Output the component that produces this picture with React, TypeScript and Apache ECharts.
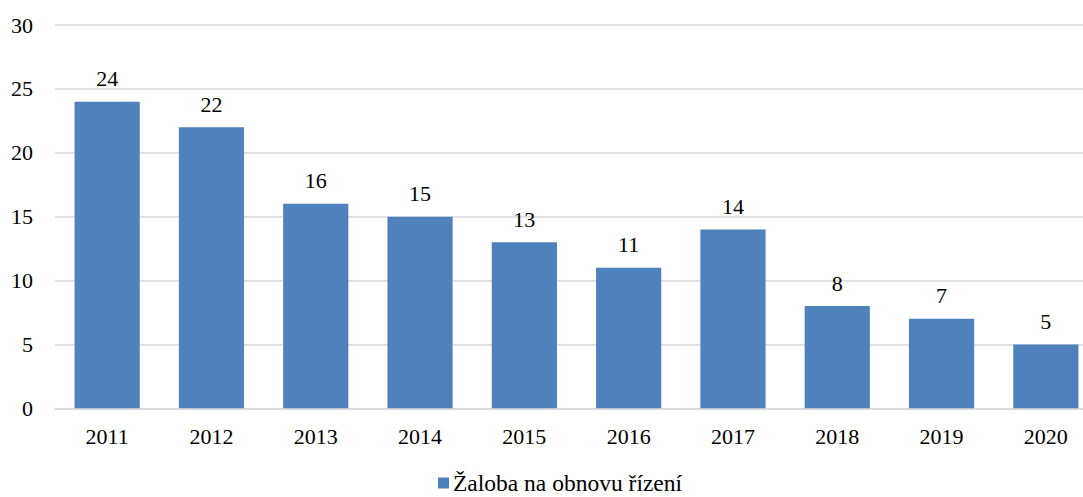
import React, { useEffect, useRef } from "react";
import * as echarts from "echarts";

const categories = ["2011", "2012", "2013", "2014", "2015", "2016", "2017", "2018", "2019", "2020"];
const values = [24, 22, 16, 15, 13, 11, 14, 8, 7, 5];
const seriesName = "Žaloba na obnovu řízení";

const FONT = "Liberation Serif";

export default function App() {
  const ref = useRef<HTMLDivElement>(null);
  useEffect(() => {
    if (!ref.current) return;
    const chart = echarts.init(ref.current, undefined, { renderer: "svg" });
    chart.setOption({
      animation: false,
      backgroundColor: "#ffffff",
      textStyle: { fontFamily: FONT },
      grid: { left: 55, right: 0, top: 25, bottom: 88.7, containLabel: false },
      legend: {
        data: [seriesName],
        left: 438,
        top: 471,
        padding: 0,
        itemGap: 10,
        icon: "rect",
        itemWidth: 11,
        itemHeight: 11,
        textStyle: { fontFamily: FONT, fontSize: 23.5, color: "#000", padding: [0, 0, 0, -1] },
      },
      xAxis: {
        type: "category",
        data: categories,
        axisLine: { show: true, lineStyle: { color: "#d9d9d9", width: 1.5 } },
        axisTick: { show: false },
        axisLabel: { fontFamily: FONT, fontSize: 22, color: "#000", margin: 17 },
      },
      yAxis: {
        type: "value",
        min: 0,
        max: 30,
        interval: 5,
        axisLine: { show: false },
        axisTick: { show: false },
        splitLine: { lineStyle: { color: "#d9d9d9", width: 1.5 } },
        axisLabel: { fontFamily: FONT, fontSize: 22, color: "#000", margin: 22 },
      },
      series: [
        {
          name: seriesName,
          type: "bar",
          data: values,
          barCategoryGap: "37.5%",
          itemStyle: { color: "#4F81BD" },
          label: {
            show: true,
            position: "top",
            distance: 12,
            fontFamily: FONT,
            fontSize: 22,
            color: "#000",
          },
        },
      ],
    });
    return () => chart.dispose();
  }, []);
  return (
    <div style={{ position: "fixed", left: 0, top: 0, width: 1083, height: 497, overflow: "hidden", background: "#fff" }}>
      <div ref={ref} style={{ width: 1098, height: 497 }} />
    </div>
  );
}
